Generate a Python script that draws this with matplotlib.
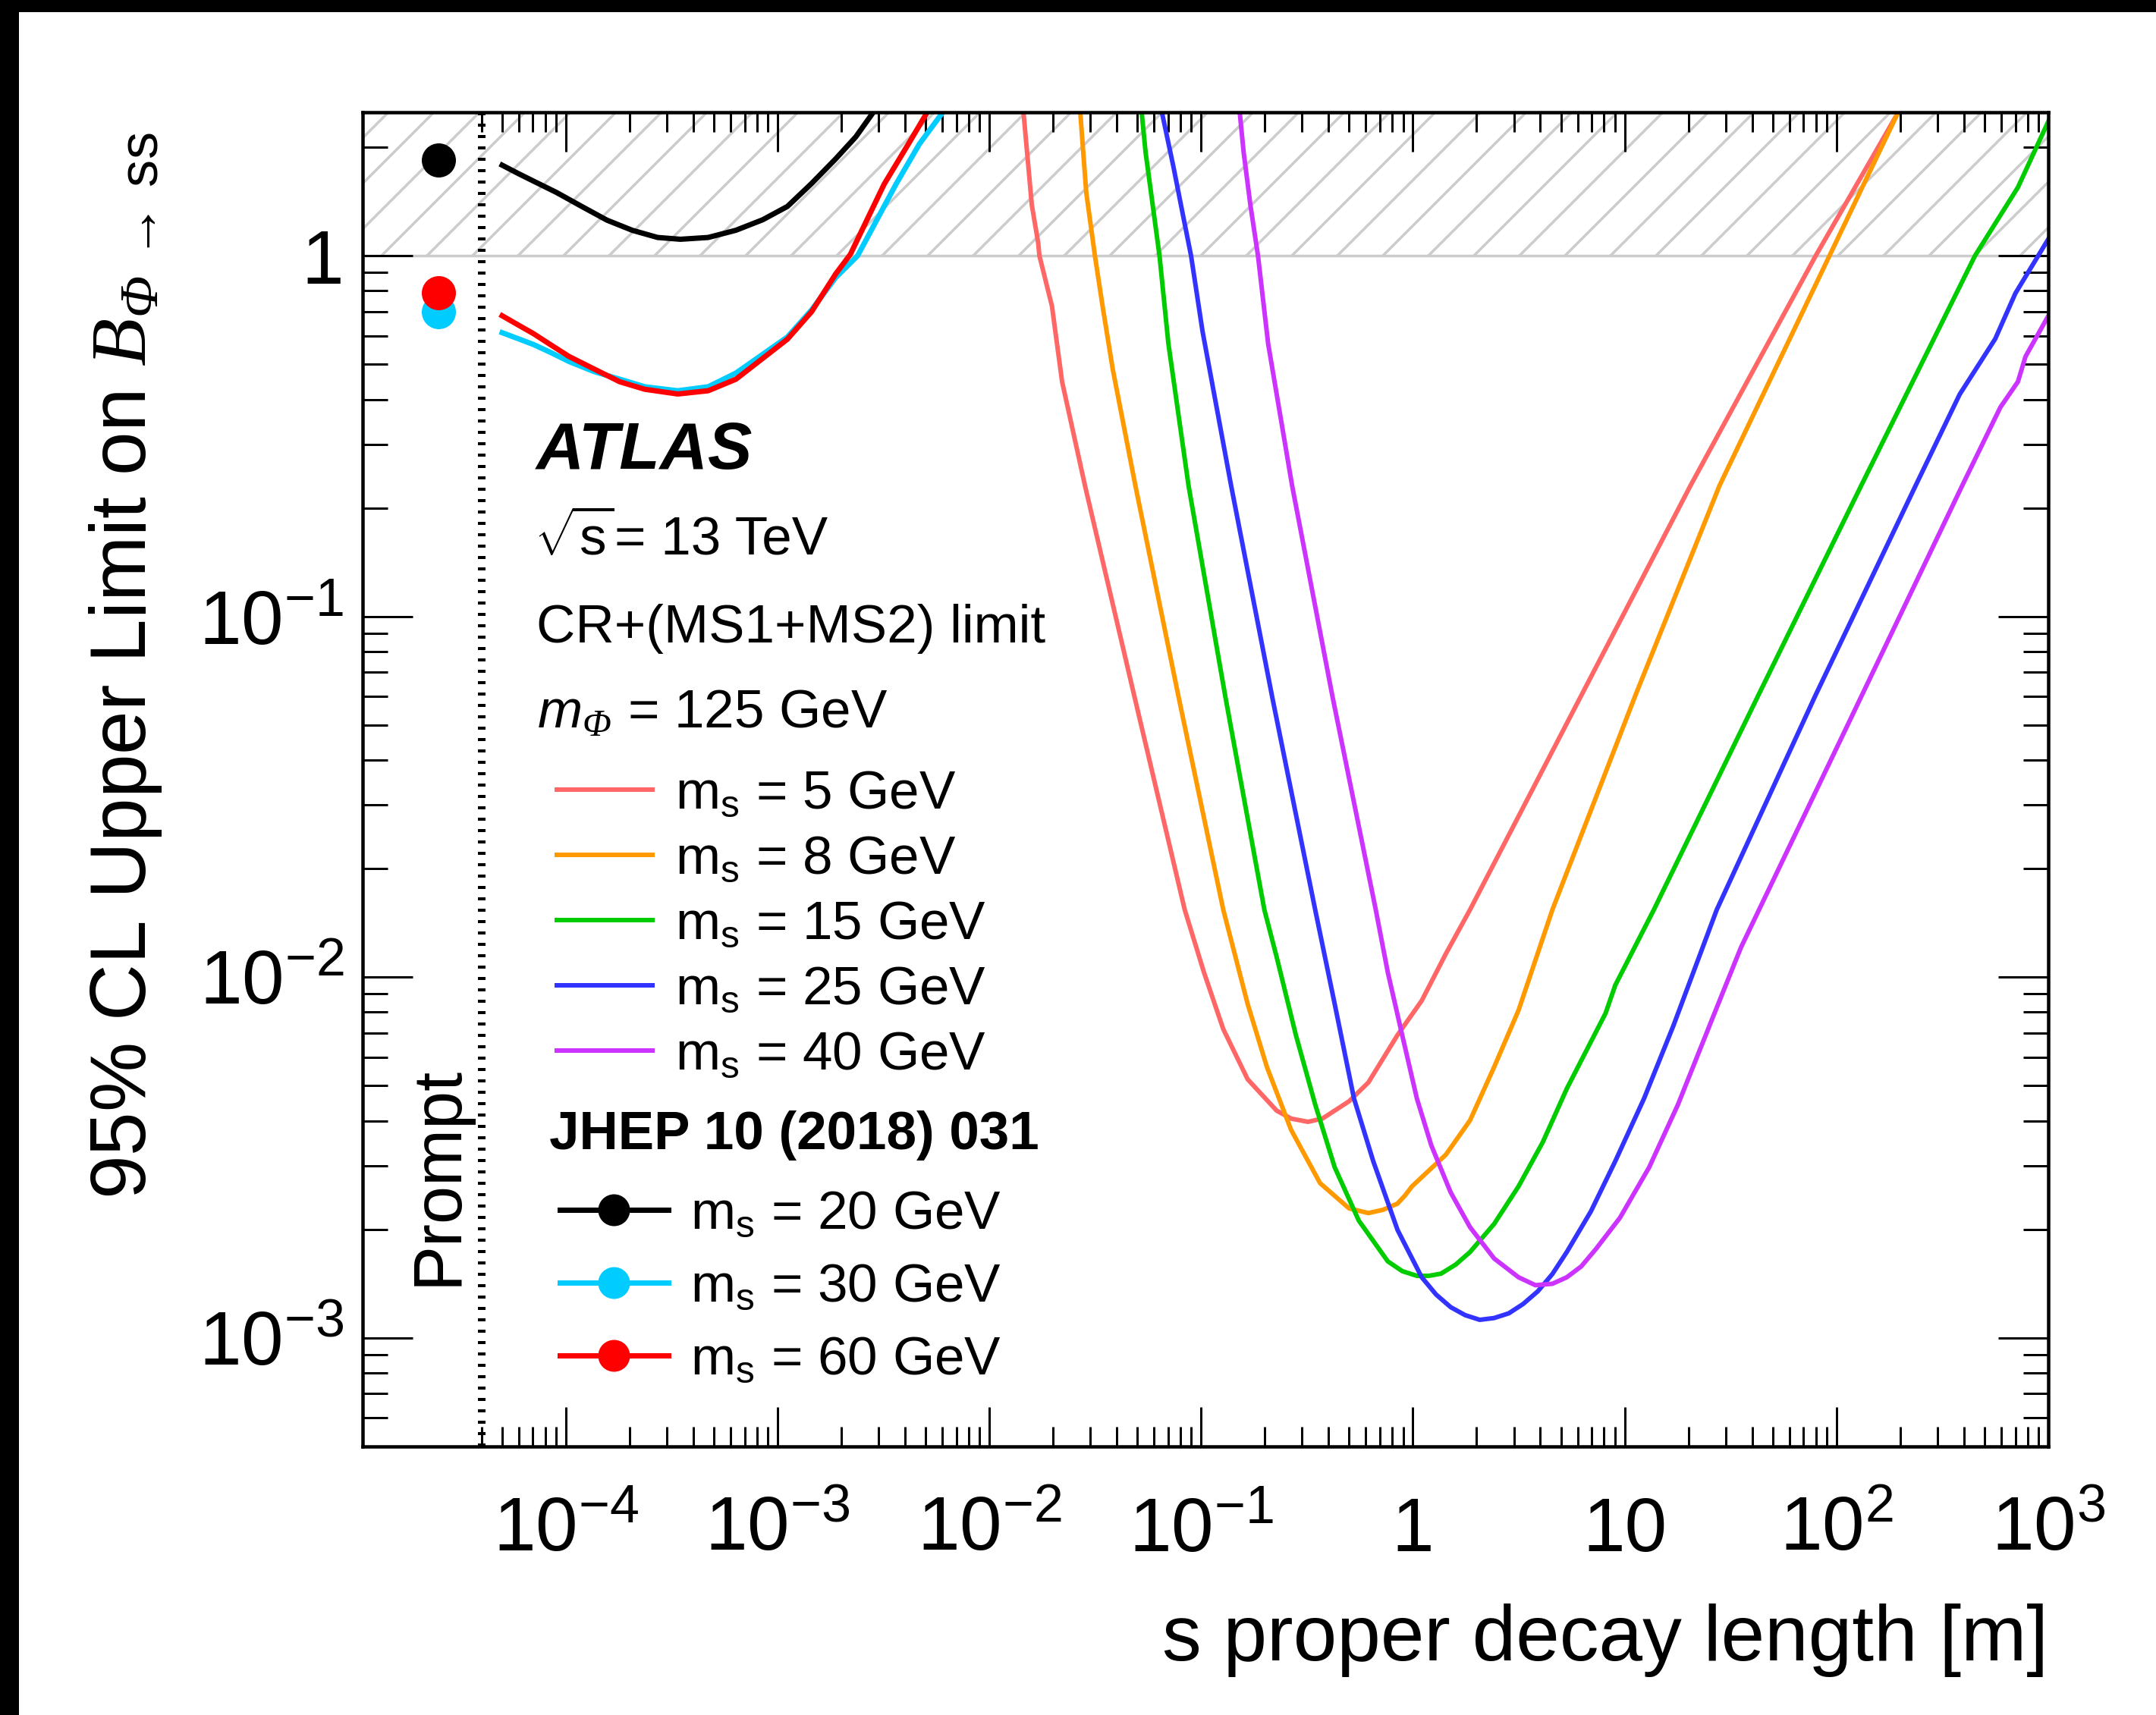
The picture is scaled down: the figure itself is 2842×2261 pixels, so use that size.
import numpy as np
import matplotlib
matplotlib.use("Agg")
import matplotlib.pyplot as plt
from matplotlib.lines import Line2D
from matplotlib.patches import Rectangle
from matplotlib.ticker import FixedLocator, FixedFormatter, NullFormatter

plt.rcParams['font.family'] = ['Liberation Sans', 'DejaVu Sans']
plt.rcParams['mathtext.fontset'] = 'custom'
plt.rcParams['mathtext.rm'] = 'Liberation Sans'
plt.rcParams['mathtext.it'] = 'Liberation Sans:italic'
plt.rcParams['mathtext.sf'] = 'Liberation Sans:italic'
plt.rcParams['mathtext.cal'] = 'Liberation Serif:italic'
plt.rcParams['mathtext.bf'] = 'Liberation Sans:bold'
plt.rcParams['hatch.linewidth'] = 0.7
plt.rcParams['hatch.color'] = '#cccccc'

# ---------------------------------------------------------------
# data (log10 of proper decay length [m], log10 of limit), read off
# ---------------------------------------------------------------
ms5_lx = [-1.838, -1.799, -1.769, -1.763, -1.704, -1.656, -1.548, -1.314, -1.077, -0.986,
          -0.895, -0.780, -0.643, -0.575, -0.495, -0.427, -0.369, -0.301, -0.210, -0.073,
          0.042, 0.156, 0.270, 0.79, 1.311, 1.902, 2.290]
ms5_ly = [0.396, 0.141, 0.036, 0.0, -0.139, -0.349, -0.637, -1.223, -1.813, -1.987,
          -2.144, -2.283, -2.370, -2.392, -2.401, -2.392, -2.370, -2.344, -2.292, -2.161,
          -2.065, -1.935, -1.813, -1.225, -0.637, 0.0, 0.396]

ms8_lx = [-1.570, -1.542, -1.501, -1.465, -1.417, -1.310, -1.106, -0.895, -0.780, -0.689,
          -0.575, -0.438, -0.301, -0.210, -0.141, -0.073, -0.038, -0.004, 0.156, 0.270,
          0.384, 0.499, 0.659, 1.05, 1.448, 1.985, 2.290]
ms8_ly = [0.396, 0.176, 0.0, -0.139, -0.314, -0.637, -1.223, -1.813, -2.074, -2.249,
          -2.423, -2.571, -2.641, -2.654, -2.645, -2.628, -2.606, -2.580, -2.492, -2.397,
          -2.249, -2.092, -1.813, -1.22, -0.637, 0.022, 0.396]

ms15_lx = [-1.280, -1.262, -1.196, -1.154, -1.059, -0.885, -0.701, -0.643, -0.552, -0.461,
           -0.369, -0.255, -0.118, -0.050, 0.019, 0.076, 0.133, 0.202, 0.270, 0.384,
           0.499, 0.613, 0.727, 0.910, 0.956, 1.138, 1.63, 2.117, 2.654, 2.857, 3.0]
ms15_ly = [0.396, 0.288, 0.0, -0.244, -0.637, -1.223, -1.813, -1.944, -2.161, -2.353,
           -2.527, -2.675, -2.788, -2.815, -2.828, -2.828, -2.822, -2.797, -2.762, -2.684,
           -2.580, -2.458, -2.309, -2.100, -2.022, -1.813, -1.22, -0.637, 0.0, 0.190, 0.372]

ms25_lx = [-1.184, -1.130, -1.083, -1.047, -0.993, -0.858, -0.664, -0.461, -0.369, -0.278,
           -0.187, -0.072, 0.042, 0.110, 0.179, 0.247, 0.316, 0.384, 0.453, 0.521,
           0.590, 0.659, 0.727, 0.841, 0.956, 1.092, 1.230, 1.435, 1.90, 2.374,
           2.582, 2.750, 2.845, 3.0]
ms25_ly = [0.396, 0.246, 0.106, 0.0, -0.209, -0.637, -1.223, -1.813, -2.074, -2.336,
           -2.510, -2.701, -2.832, -2.880, -2.915, -2.937, -2.950, -2.945, -2.932, -2.906,
           -2.871, -2.823, -2.762, -2.649, -2.510, -2.336, -2.135, -1.813, -1.22, -0.637,
           -0.384, -0.230, -0.104, 0.046]

ms40_lx = [-0.817, -0.799, -0.767, -0.731, -0.683, -0.570, -0.379, -0.175, -0.118, -0.050,
           0.019, 0.087, 0.179, 0.270, 0.384, 0.499, 0.579, 0.659, 0.727, 0.795,
           0.864, 0.978, 1.116, 1.252, 1.412, 1.549, 2.07, 2.594, 2.774, 2.857,
           2.893, 3.0]
ms40_ly = [0.396, 0.288, 0.141, 0.0, -0.244, -0.637, -1.223, -1.813, -1.987, -2.161,
           -2.336, -2.466, -2.597, -2.693, -2.780, -2.832, -2.854, -2.850, -2.832, -2.802,
           -2.754, -2.667, -2.527, -2.353, -2.118, -1.918, -1.28, -0.637, -0.420, -0.349,
           -0.279, -0.167]

# JHEP 10 (2018) 031 results
jh20_lx = [-4.300, -4.223, -4.151, -4.044, -3.924, -3.805, -3.686, -3.566, -3.458, -3.327,
           -3.196, -3.07, -2.953, -2.84, -2.725, -2.63, -2.55]
jh20_ly = [0.2515, 0.228, 0.207, 0.176, 0.137, 0.099, 0.071, 0.051, 0.046, 0.051,
           0.071, 0.100, 0.137, 0.20, 0.269, 0.33, 0.396]
jh30_lx = [-4.300, -4.223, -4.151, -4.067, -3.984, -3.865, -3.745, -3.626, -3.471, -3.327,
           -3.196, -2.953, -2.839, -2.725, -2.622, -2.44, -2.33, -2.222]
jh30_ly = [-0.213, -0.230, -0.246, -0.269, -0.293, -0.321, -0.342, -0.363, -0.374, -0.363,
           -0.325, -0.225, -0.150, -0.060, 0.0, 0.199, 0.31, 0.396]
jh60_lx = [-4.300, -4.223, -4.151, -4.067, -3.984, -3.865, -3.745, -3.626, -3.471, -3.327,
           -3.196, -2.953, -2.839, -2.725, -2.656, -2.496, -2.382, -2.295]
jh60_ly = [-0.166, -0.192, -0.216, -0.248, -0.279, -0.314, -0.349, -0.370, -0.383, -0.374,
           -0.342, -0.231, -0.155, -0.050, 0.004, 0.199, 0.310, 0.396]

# prompt limits
prompt_x = 2.5e-5
prompt_20 = 1.84
prompt_30 = 0.70
prompt_60 = 0.79
prompt_edge = 4e-5

x_ticks = [1e-4, 1e-3, 1e-2, 1e-1, 1, 10, 1e2, 1e3]
x_labels = ['$10^{-4}$', '$10^{-3}$', '$10^{-2}$', '$10^{-1}$', '1', '10', '$10^{2}$', '$10^{3}$']
y_ticks = [1e-3, 1e-2, 1e-1, 1]
y_labels = ['$10^{-3}$', '$10^{-2}$', '$10^{-1}$', '1']

X_MIN, X_MAX = 1.1e-5, 1e3
Y_MIN, Y_MAX = 5e-4, 2.5

new_labels = [r'$\mathrm{m_{s}}$ = 5 GeV', r'$\mathrm{m_{s}}$ = 8 GeV', r'$\mathrm{m_{s}}$ = 15 GeV',
              r'$\mathrm{m_{s}}$ = 25 GeV', r'$\mathrm{m_{s}}$ = 40 GeV']
new_colors = ['#ff6666', '#ff9900', '#00cc00', '#3333ff', '#cc33ff']
old_labels = [r'$\mathrm{m_{s}}$ = 20 GeV', r'$\mathrm{m_{s}}$ = 30 GeV', r'$\mathrm{m_{s}}$ = 60 GeV']
old_colors = ['black', '#00ccff', '#ff0000']

# ---------------------------------------------------------------
# plotting
# ---------------------------------------------------------------
DPI = 360
FS = 14.2
fig = plt.figure(figsize=(2842 / DPI, 2261 / DPI), dpi=DPI)
ax = fig.add_axes([0.1682, 0.1566, 0.9500 - 0.1682, 0.9345 - 0.1566])
ax.set_xscale('log')
ax.set_yscale('log')
ax.set_xlim(X_MIN, X_MAX)
ax.set_ylim(Y_MIN, Y_MAX)

# excluded region above 1
ax.axhspan(1, Y_MAX, facecolor='none', edgecolor='#cccccc', hatch='//', lw=0, zorder=1)
ax.axhline(1, color='#cccccc', lw=0.7, zorder=1)

# prompt separator
ax.axvline(prompt_edge, color='black', lw=2.0, linestyle=(0, (0.4, 1.1)),
           dash_capstyle='butt', zorder=3)

new_curves = [(ms5_lx, ms5_ly), (ms8_lx, ms8_ly), (ms15_lx, ms15_ly),
              (ms25_lx, ms25_ly), (ms40_lx, ms40_ly)]
new_handles = []
for (lx, ly), c, lab in zip(new_curves, new_colors, new_labels):
    h, = ax.plot(10 ** np.array(lx), 10 ** np.array(ly), color=c, lw=1.2,
                 label=lab, zorder=4, solid_joinstyle='round')
    new_handles.append(h)

old_curves = [(jh20_lx, jh20_ly, prompt_20), (jh30_lx, jh30_ly, prompt_30),
              (jh60_lx, jh60_ly, prompt_60)]
for (lx, ly, p), c in zip(old_curves, old_colors):
    ax.plot(10 ** np.array(lx), 10 ** np.array(ly), color=c, lw=1.4, zorder=4,
            solid_joinstyle='round')
    ax.plot([prompt_x], [p], 'o', color=c, ms=9, mec='none', zorder=5)

# ticks
ax.xaxis.set_major_locator(FixedLocator(x_ticks))
ax.xaxis.set_major_formatter(FixedFormatter(x_labels))
x_minor = [m * 10.0 ** e for e in range(-5, 3) for m in range(2, 10) if m * 10.0 ** e >= 4e-5]
ax.xaxis.set_minor_locator(FixedLocator(x_minor))
ax.xaxis.set_minor_formatter(NullFormatter())
ax.yaxis.set_major_locator(FixedLocator(y_ticks))
ax.yaxis.set_major_formatter(FixedFormatter(y_labels))
y_minor = [m * 10.0 ** e for e in range(-4, 1) for m in range(2, 10)]
ax.yaxis.set_minor_locator(FixedLocator(y_minor))
ax.yaxis.set_minor_formatter(NullFormatter())

ax.tick_params(which='both', direction='in', top=True, right=True, width=0.6, labelsize=20)
ax.tick_params(axis='x', which='major', length=10.4, pad=13)
ax.tick_params(axis='x', which='minor', length=5.2)
ax.tick_params(axis='y', which='major', length=13.2, pad=5)
ax.tick_params(axis='y', which='minor', length=6.6)
for s in ax.spines.values():
    s.set_linewidth(0.9)
    s.set_zorder(6)

ax.set_xlabel('s proper decay length [m]', fontsize=20.7, loc='right')
ax.xaxis.set_label_coords(1.0, -0.1175)
ax.set_ylabel(r'95% CL Upper Limit on $\mathcal{B}_{\mathcal{\Phi}\,\rightarrow\,\mathrm{ss}}$',
              fontsize=20.7, loc='top')
ax.yaxis.set_label_coords(-0.118, 0.985)

# labels
ax.text(0.1031, 0.733, 'ATLAS', transform=ax.transAxes, fontsize=17.5,
        fontweight='bold', fontstyle='italic', va='baseline')
ax.text(0.1015, 0.6682, r'$\sqrt{\mathrm{s}}$', transform=ax.transAxes,
        fontsize=FS, va='baseline')
ax.text(0.1495, 0.6682, '= 13 TeV', transform=ax.transAxes,
        fontsize=FS, va='baseline')
ax.text(0.1029, 0.6028, 'CR+(MS1+MS2) limit', transform=ax.transAxes,
        fontsize=FS, va='baseline')
ax.text(0.1035, 0.5384, r'$\mathsf{m}_{\mathcal{\Phi}}$ = 125 GeV', transform=ax.transAxes,
        fontsize=FS, va='baseline')
ax.text(0.1105, 0.2228, 'JHEP 10 (2018) 031', transform=ax.transAxes,
        fontsize=FS, fontweight='bold', va='baseline')
ax.text(0.045, 0.1205, 'Prompt', transform=ax.transAxes, fontsize=18,
        rotation=90, ha='center', va='bottom')

leg1 = ax.legend(handles=new_handles, loc='upper left', bbox_to_anchor=(0.1152, 0.507),
                 frameon=False, fontsize=FS, handlelength=1.78, handletextpad=0.42,
                 labelspacing=0.28, borderpad=0, borderaxespad=0)
ax.add_artist(leg1)

old_handles = [Line2D([], [], color=c, lw=1.4, marker='o', ms=8.4, mec='none')
               for c in old_colors]
ax.legend(handles=old_handles, labels=old_labels, loc='upper left',
          bbox_to_anchor=(0.1168, 0.192), frameon=False, fontsize=FS,
          handlelength=2.02, handletextpad=0.41, labelspacing=0.42, numpoints=1,
          borderpad=0, borderaxespad=0)

# black frame edges as in the reference image
fig.patches.append(Rectangle((0, 1 - 13 / 2261), 1, 13 / 2261, transform=fig.transFigure,
                             color='black', zorder=10))
fig.patches.append(Rectangle((0, 0), 22 / 2842, 1, transform=fig.transFigure,
                             color='black', zorder=10))

fig.savefig('out.png', dpi=DPI)
